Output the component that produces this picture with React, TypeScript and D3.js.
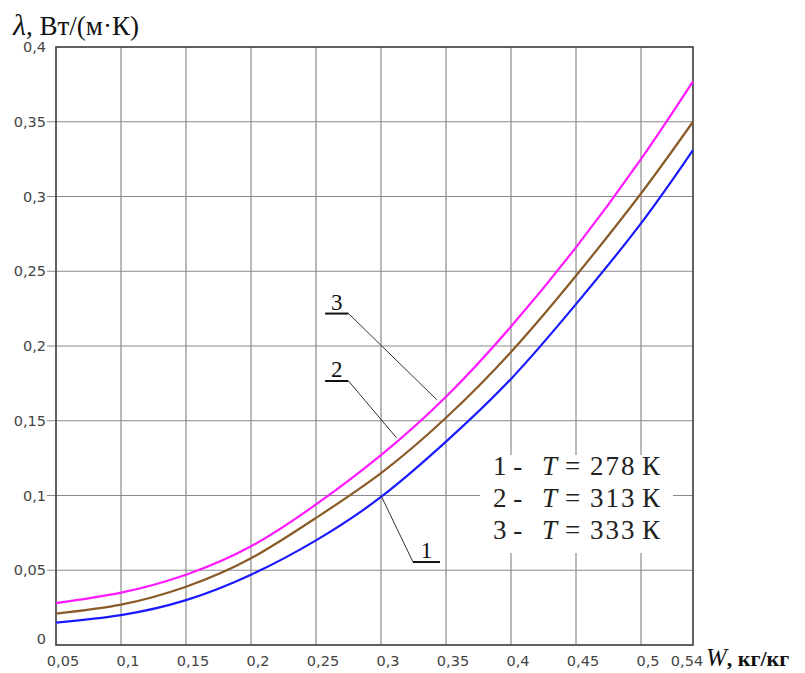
import React from 'react';
import * as d3 from 'd3';

// moisture content W, kg/kg
const wValues = [0.05, 0.1, 0.15, 0.2, 0.25, 0.3, 0.35, 0.4, 0.45, 0.5, 0.54];
// thermal conductivity, W/(m·K)
const lambda278 = [0.015, 0.020, 0.030, 0.047, 0.070, 0.099, 0.136, 0.178, 0.228, 0.282, 0.331];
const lambda313 = [0.021, 0.027, 0.039, 0.058, 0.085, 0.115, 0.152, 0.196, 0.247, 0.302, 0.350];
const lambda333 = [0.028, 0.035, 0.047, 0.066, 0.094, 0.127, 0.166, 0.213, 0.266, 0.325, 0.377];

const xTicks = [0.05, 0.1, 0.15, 0.2, 0.25, 0.3, 0.35, 0.4, 0.45, 0.5, 0.54];
const yTicks = [0, 0.05, 0.1, 0.15, 0.2, 0.25, 0.3, 0.35, 0.4];

const seriesNames = ['1', '2', '3'];
const seriesTemps = ['278', '313', '333'];
const seriesColors = ['#1a1aff', '#8a5a28', '#ff1aff'];
const seriesValues = [lambda278, lambda313, lambda333];

// curve labels: underline anchor and leader end, in data units
const labelAnchors = [
  { name: '1', w0: 0.3246, w1: 0.3454, y: 0.0555, tw: 0.300, ty: 0.100 },
  { name: '2', w0: 0.257, w1: 0.275, y: 0.1766, tw: 0.312, ty: 0.1385 },
  { name: '3', w0: 0.257, w1: 0.275, y: 0.2217, tw: 0.343, ty: 0.164 },
];

const fmt = (v: number) => String(v).replace('.', ',');

export default function App() {
  const x = d3.scaleLinear().domain([0.05, 0.54]).range([56, 693]);
  const y = d3.scaleLinear().domain([0, 0.4]).range([645, 47]);

  const line = d3
    .line<number>()
    .x((_, i) => x(wValues[i]))
    .y((d) => y(d))
    .curve(d3.curveNatural);

  const serif = '"Liberation Serif", "Times New Roman", serif';
  const sans = '"DejaVu Sans", Verdana, sans-serif';

  const legendX = 480;
  const legendY = 455;

  return (
    <svg
      width={805}
      height={673}
      style={{ position: 'absolute', left: 0, top: 0, background: '#fff' }}
    >
      <rect width={805} height={673} fill="#fff" />

      {/* grid */}
      <g stroke="#8a8a8a" strokeWidth={1.2}>
        {xTicks.slice(1, -1).map((t) => (
          <line key={'gx' + t} x1={x(t)} x2={x(t)} y1={y(0.4)} y2={y(0)} />
        ))}
        {yTicks.slice(1, -1).map((t) => (
          <line key={'gy' + t} x1={x(0.05) - 9} x2={x(0.54)} y1={y(t)} y2={y(t)} />
        ))}
      </g>

      {/* legend box hides grid */}
      <rect x={legendX} y={legendY} width={193} height={98} fill="#fff" />

      {/* frame */}
      <rect
        x={x(0.05)}
        y={y(0.4)}
        width={x(0.54) - x(0.05)}
        height={y(0) - y(0.4)}
        fill="none"
        stroke="#3a3a3a"
        strokeWidth={1.6}
      />

      {/* curves */}
      {seriesValues.map((vals, i) => (
        <path
          key={'s' + i}
          d={line(vals) || ''}
          fill="none"
          stroke={seriesColors[i]}
          strokeWidth={2.2}
        />
      ))}

      {/* y tick labels */}
      <g fontFamily={sans} fontSize={14.5} fill="#444" textAnchor="end">
        {yTicks.map((t) => (
          <text key={'ty' + t} x={46} y={y(t) + (t === 0 ? -6 : 0)} dy="0.36em">
            {fmt(t)}
          </text>
        ))}
      </g>

      {/* x tick labels */}
      <g fontFamily={sans} fontSize={14.5} fill="#444" textAnchor="middle">
        {xTicks.map((t) => (
          <text key={'tx' + t} x={x(t) + (t === 0.54 ? -6 : 7)} y={666}>
            {fmt(t)}
          </text>
        ))}
      </g>

      {/* axis titles */}
      <text x={13} y={35} fontFamily={serif} fontSize={30} fill="#111">
        <tspan fontStyle="italic">λ</tspan>
        <tspan fontSize={27}>, Вт/(м·К)</tspan>
      </text>
      <text x={706} y={666} fontFamily={serif} fontSize={25} fill="#111">
        <tspan fontStyle="italic">W</tspan>
        <tspan fontWeight="bold" fontSize={22}>, кг/кг</tspan>
      </text>

      {/* curve labels with leaders */}
      {labelAnchors.map((a) => (
        <g key={'l' + a.name}>
          <text
            x={(x(a.w0) + x(a.w1)) / 2}
            y={y(a.y) - 4}
            textAnchor="middle"
            fontFamily={serif}
            fontSize={23}
            fill="#111"
          >
            {a.name}
          </text>
          <line x1={x(a.w0)} x2={x(a.w1)} y1={y(a.y)} y2={y(a.y)} stroke="#111" strokeWidth={2} />
          <line
            x1={a.name === '1' ? x(a.w0) : x(a.w1)}
            y1={y(a.y)}
            x2={x(a.tw)}
            y2={y(a.ty)}
            stroke="#333"
            strokeWidth={1}
          />
        </g>
      ))}

      {/* legend */}
      <g fontFamily={serif} fontSize={27} fill="#222">
        {seriesNames.map((n, i) => (
          <text key={'lg' + n} y={legendY + 20 + i * 32}>
            <tspan x={legendX + 13}>{n} -</tspan>
            <tspan x={legendX + 62} fontStyle="italic">T</tspan>
            <tspan x={legendX + 85}>=</tspan>
            <tspan x={legendX + 110} letterSpacing={2}>{seriesTemps[i]}</tspan>
            <tspan x={legendX + 162}>К</tspan>
          </text>
        ))}
      </g>
    </svg>
  );
}
